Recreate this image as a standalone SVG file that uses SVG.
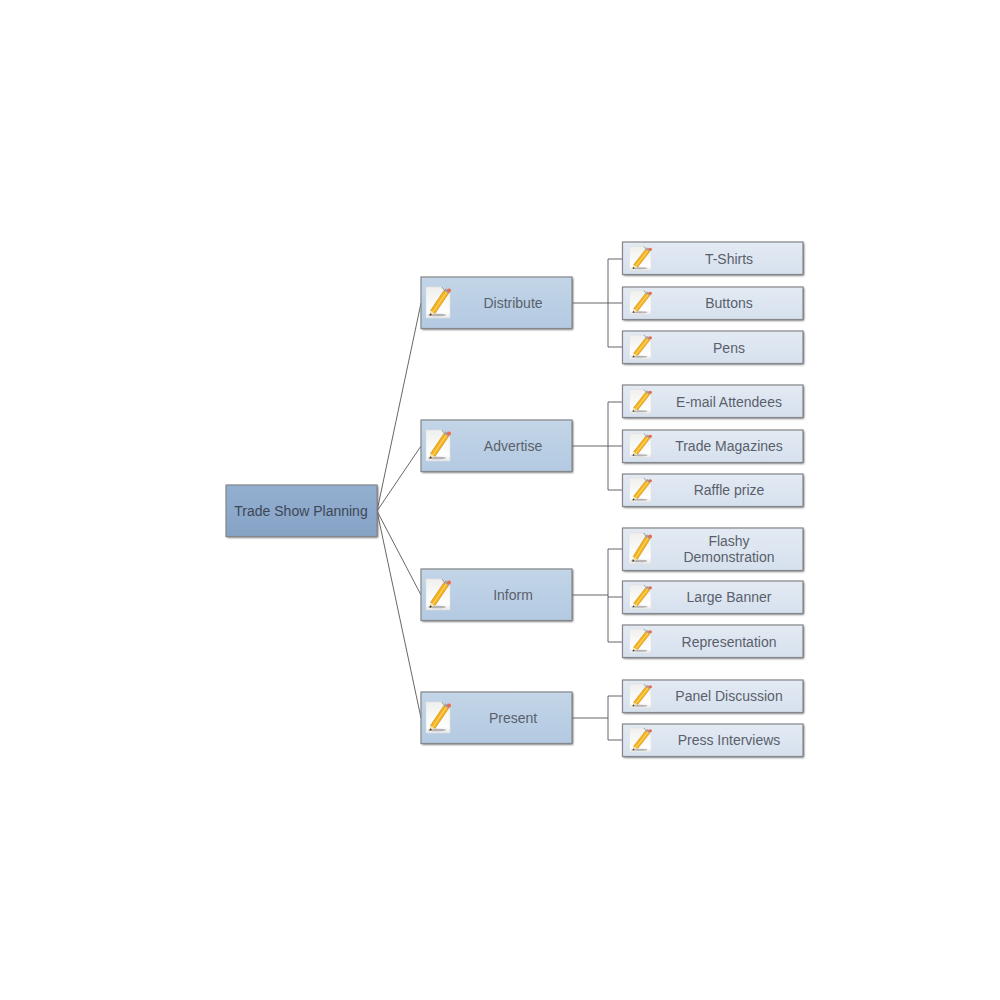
<svg xmlns="http://www.w3.org/2000/svg" width="1000" height="1000" viewBox="0 0 1000 1000">
<defs>
<linearGradient id="gr" x1="0" y1="0" x2="0" y2="1"><stop offset="0" stop-color="#93afd0"/><stop offset="1" stop-color="#86a3c6"/></linearGradient>
<linearGradient id="g1" x1="0" y1="0" x2="0" y2="1"><stop offset="0" stop-color="#c3d5e7"/><stop offset="1" stop-color="#b3cae2"/></linearGradient>
<linearGradient id="g2" x1="0" y1="0" x2="0" y2="1"><stop offset="0" stop-color="#e3eaf3"/><stop offset="1" stop-color="#d6e1ee"/></linearGradient>
<linearGradient id="pg" x1="0" y1="0" x2="0" y2="1"><stop offset="0" stop-color="#efefed"/><stop offset="0.8" stop-color="#ffffff"/><stop offset="1" stop-color="#e8e8e8"/></linearGradient>
<filter id="b" x="-10%" y="-10%" width="120%" height="120%"><feGaussianBlur stdDeviation="0.8"/></filter>
<g id="pencil">
<path d="M0 0H17L24 7V31H0Z" fill="url(#pg)" stroke="#dedede" stroke-width="0.6"/>
<ellipse cx="11" cy="28" rx="9" ry="1.3" fill="#b4b4b4"/>
<path d="M4.500 23.500 L18 3.500 L22.500 6.500 L9 26.500 Z" fill="#f5b21c" stroke="#c98a10" stroke-width="0.6"/>
<path d="M7 25 L20.500 5" stroke="#fbd566" stroke-width="1.2"/>
<path d="M4.500 23.500 L9 26.500 L3.500 29 Z" fill="#efe0b0"/>
<path d="M3.500 29 L4.100 26.300 L6 27.800 Z" fill="#333"/>
<path d="M18 3.500 L19.500 1.200 L24 4.300 L22.500 6.500 Z" fill="#9da6ae"/>
<circle cx="23" cy="3.500" r="2" fill="#ea6a4a"/>
<path d="M16 0 L19 4" stroke="#8f8f8f" stroke-width="1" fill="none"/>
</g>
</defs>
<style>
.s{fill:#55575a;filter:url(#b)}
.o{stroke:#85878a;stroke-width:1.2}
.c{fill:none;stroke:#565656;stroke-width:0.9}
text{font-family:"Liberation Sans",Arial,sans-serif;font-size:14px;fill:#5a5f6b;text-anchor:middle}
.t0{fill:#3f4656}
</style>
<rect width="1000" height="1000" fill="#ffffff"/>
<g id="connectors">
<path class="c" d="M377 511L421 303M377 511L421 446M377 511L421 595M377 511L421 718"/>
<path class="c" d="M572 303H623M608 259V347M608 259H623M608 347H623"/>
<path class="c" d="M572 446H623M608 402V490M608 402H623M608 490H623"/>
<path class="c" d="M572 595H608M608 549V642M608 549H623M608 597H623M608 642H623"/>
<path class="c" d="M572 718H608M608 696V740M608 696H623M608 740H623"/>
</g>
<g id="root"><rect class="s" x="227" y="486" width="151" height="51.500"/><rect class="o" x="226" y="485" width="151" height="51.500" fill="url(#gr)"/><text class="t0" x="301" y="515.500">Trade Show Planning</text></g>

<g id="distribute"><rect class="s" x="422" y="278" width="151" height="51.500"/><rect class="o" x="421" y="277" width="151" height="51.500" fill="url(#g1)"/><use href="#pencil" x="426" y="287"/><text x="513" y="308">Distribute</text></g>
<g id="advertise"><rect class="s" x="422" y="421" width="151" height="51.500"/><rect class="o" x="421" y="420" width="151" height="51.500" fill="url(#g1)"/><use href="#pencil" x="426" y="430"/><text x="513" y="451">Advertise</text></g>
<g id="inform"><rect class="s" x="422" y="570" width="151" height="51.500"/><rect class="o" x="421" y="569" width="151" height="51.500" fill="url(#g1)"/><use href="#pencil" x="426" y="579"/><text x="513" y="600">Inform</text></g>
<g id="present"><rect class="s" x="422" y="693" width="151" height="51.500"/><rect class="o" x="421" y="692" width="151" height="51.500" fill="url(#g1)"/><use href="#pencil" x="426" y="702"/><text x="513" y="723">Present</text></g>

<g id="tshirts"><rect class="s" x="623.500" y="243" width="180.500" height="32.500"/><rect class="o" x="622.500" y="242" width="180.500" height="32.500" fill="url(#g2)"/><use href="#pencil" transform="translate(629.500 246.500) scale(0.9 0.78)"/><text x="729" y="263.500">T-Shirts</text></g>
<g id="buttons"><rect class="s" x="623.500" y="288" width="180.500" height="32.500"/><rect class="o" x="622.500" y="287" width="180.500" height="32.500" fill="url(#g2)"/><use href="#pencil" transform="translate(629.500 290.500) scale(0.9 0.78)"/><text x="729" y="308">Buttons</text></g>
<g id="pens"><rect class="s" x="623.500" y="332" width="180.500" height="32.500"/><rect class="o" x="622.500" y="331" width="180.500" height="32.500" fill="url(#g2)"/><use href="#pencil" transform="translate(629.500 335) scale(0.9 0.78)"/><text x="729" y="352.500">Pens</text></g>
<g id="email"><rect class="s" x="623.500" y="386" width="180.500" height="32.500"/><rect class="o" x="622.500" y="385" width="180.500" height="32.500" fill="url(#g2)"/><use href="#pencil" transform="translate(629.500 389.500) scale(0.9 0.78)"/><text x="729" y="406.500">E-mail Attendees</text></g>
<g id="magazines"><rect class="s" x="623.500" y="431" width="180.500" height="32.500"/><rect class="o" x="622.500" y="430" width="180.500" height="32.500" fill="url(#g2)"/><use href="#pencil" transform="translate(629.500 433.500) scale(0.9 0.78)"/><text x="729" y="451">Trade Magazines</text></g>
<g id="raffle"><rect class="s" x="623.500" y="475" width="180.500" height="32.500"/><rect class="o" x="622.500" y="474" width="180.500" height="32.500" fill="url(#g2)"/><use href="#pencil" transform="translate(629.500 478) scale(0.9 0.78)"/><text x="729" y="495">Raffle prize</text></g>
<g id="flashy"><rect class="s" x="623.500" y="529" width="180.500" height="42.500"/><rect class="o" x="622.500" y="528" width="180.500" height="42.500" fill="url(#g2)"/><use href="#pencil" transform="translate(629 533) scale(0.92 1)"/><text x="729" y="545.500">Flashy</text><text x="729" y="561.500">Demonstration</text></g>
<g id="banner"><rect class="s" x="623.500" y="582" width="180.500" height="32.500"/><rect class="o" x="622.500" y="581" width="180.500" height="32.500" fill="url(#g2)"/><use href="#pencil" transform="translate(629.500 585) scale(0.9 0.78)"/><text x="729" y="602">Large Banner</text></g>
<g id="representation"><rect class="s" x="623.500" y="626" width="180.500" height="32.500"/><rect class="o" x="622.500" y="625" width="180.500" height="32.500" fill="url(#g2)"/><use href="#pencil" transform="translate(629.500 629) scale(0.9 0.78)"/><text x="729" y="647">Representation</text></g>
<g id="panel"><rect class="s" x="623.500" y="681" width="180.500" height="32.500"/><rect class="o" x="622.500" y="680" width="180.500" height="32.500" fill="url(#g2)"/><use href="#pencil" transform="translate(629.500 684) scale(0.9 0.78)"/><text x="729" y="701">Panel Discussion</text></g>
<g id="interviews"><rect class="s" x="623.500" y="725" width="180.500" height="32.500"/><rect class="o" x="622.500" y="724" width="180.500" height="32.500" fill="url(#g2)"/><use href="#pencil" transform="translate(629.500 728) scale(0.9 0.78)"/><text x="729" y="745">Press Interviews</text></g>
</svg>
